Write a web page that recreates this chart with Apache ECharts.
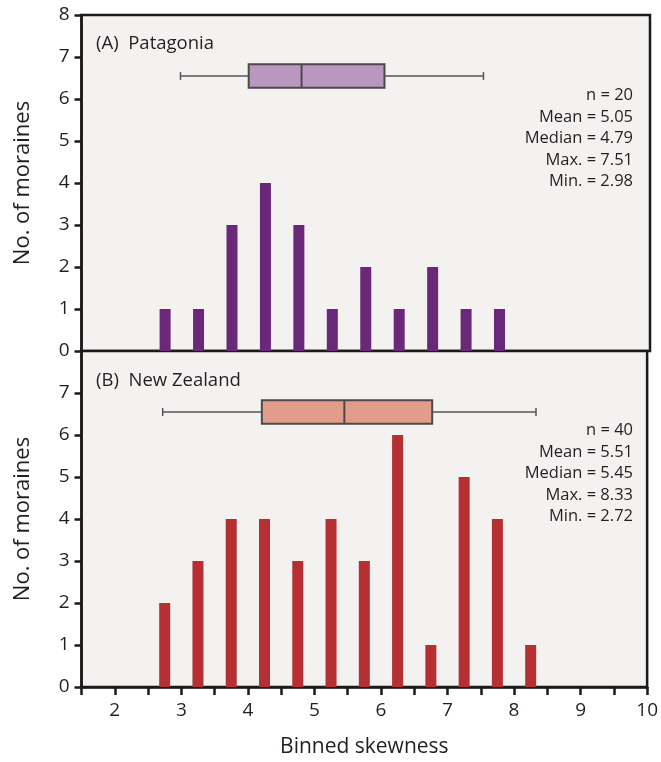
<!DOCTYPE html>
<html>
<head>
<meta charset="utf-8">
<script src="https://cdn.jsdelivr.net/npm/echarts@6/dist/echarts.min.js"></script>
<style>
html,body{margin:0;padding:0;background:#fff;}
#c{width:661px;height:762px;}
</style>
</head>
<body>
<div id="c"></div>
<script>
// ---- data ----
const binCentersA = [2.75, 3.25, 3.75, 4.25, 4.75, 5.25, 5.75, 6.25, 6.75, 7.25, 7.75];
const countsA     = [1, 1, 3, 4, 3, 1, 2, 1, 2, 1, 1];
const binCentersB = [2.75, 3.25, 3.75, 4.25, 4.75, 5.25, 5.75, 6.25, 6.75, 7.25, 7.75, 8.25];
const countsB     = [2, 3, 4, 4, 3, 4, 3, 6, 1, 5, 4, 1];
// box plots: [min, q1, median, q3, max]
const boxA = [2.98, 4.0, 4.79, 6.03, 7.51];
const boxB = [2.72, 4.21, 5.45, 6.77, 8.33];
const panelTitles = ['(A)  Patagonia', '(B)  New Zealand'];
const statsA = {n: 20, mean: '5.05', median: '4.79', max: '7.51', min: '2.98'};
const statsB = {n: 40, mean: '5.51', median: '5.45', max: '8.33', min: '2.72'};
const xTickLabels = [2, 3, 4, 5, 6, 7, 8, 9, 10];

// ---- styles ----
const FONT = 'Open Sans';
const TXT = '#231f20';
const BG = '#f3f2f1';
const barColorA = '#6a2878';
const barColorB = '#b52f33';
const boxFillA = '#ba97c0';
const boxFillB = '#e39b8b';

const chart = echarts.init(document.getElementById('c'), null, {renderer: 'canvas'});

function statsText(s) {
  return ['n = ' + s.n, 'Mean = ' + s.mean, 'Median = ' + s.median, 'Max. = ' + s.max, 'Min. = ' + s.min].join('\n');
}

function boxRender(params, api) {
  const yc = 6.55;
  const mn = api.coord([api.value(0), yc]);
  const q1 = api.coord([api.value(1), yc]);
  const md = api.coord([api.value(2), yc]);
  const q3 = api.coord([api.value(3), yc]);
  const mx = api.coord([api.value(4), yc]);
  const h = api.size([0, 0.56])[1];
  const fill = params.seriesIndex === 1 ? boxFillA : boxFillB;
  const lineStyle = {stroke: '#555', lineWidth: 1.5};
  const cap = 4;
  return {
    type: 'group',
    children: [
      {type: 'line', shape: {x1: mn[0], y1: mn[1], x2: q1[0], y2: q1[1]}, style: lineStyle},
      {type: 'line', shape: {x1: q3[0], y1: q3[1], x2: mx[0], y2: mx[1]}, style: lineStyle},
      {type: 'line', shape: {x1: mn[0], y1: mn[1] - cap, x2: mn[0], y2: mn[1] + cap}, style: lineStyle},
      {type: 'line', shape: {x1: mx[0], y1: mx[1] - cap, x2: mx[0], y2: mx[1] + cap}, style: lineStyle},
      {type: 'rect', shape: {x: q1[0], y: q1[1] - h / 2, width: q3[0] - q1[0], height: h},
        style: {fill: fill, stroke: '#4a4a4a', lineWidth: 2}},
      {type: 'line', shape: {x1: md[0], y1: md[1] - h / 2, x2: md[0], y2: md[1] + h / 2},
        style: {stroke: '#4a4a4a', lineWidth: 2}}
    ]
  };
}

const gridLeft = 81.5, gridRight = 11, panelH = 336;

const yAxisCommon = {
  type: 'value', min: 0, max: 8, interval: 1,
  axisLine: {show: true, onZero: false, lineStyle: {color: '#1a1a1a', width: 2.5}},
  axisTick: {show: true, length: 7, lineStyle: {color: '#1a1a1a', width: 2.5}},
  splitLine: {show: false},
  name: 'No. of moraines', nameLocation: 'middle', nameGap: 48,
  nameTextStyle: {fontFamily: FONT, fontSize: 22, color: TXT},
  axisLabel: {fontFamily: FONT, fontSize: 19, color: TXT, margin: 12}
};

const option = {
  animation: false,
  backgroundColor: '#ffffff',
  grid: [
    {left: gridLeft, right: gridRight, top: 15, height: panelH, show: true, backgroundColor: BG, borderColor: '#1a1a1a', borderWidth: 2.5},
    {left: gridLeft, right: gridRight, top: 15 + panelH, height: panelH, show: true, backgroundColor: BG, borderColor: '#1a1a1a', borderWidth: 2.5}
  ],
  xAxis: [
    {gridIndex: 0, type: 'value', min: 1.5, max: 10, interval: 0.5, show: false, splitLine: {show: false}},
    {gridIndex: 1, type: 'value', min: 1.5, max: 10, interval: 0.5,
      axisLine: {show: true, onZero: false, lineStyle: {color: '#1a1a1a', width: 2.5}},
      axisTick: {show: true, length: 8, lineStyle: {color: '#1a1a1a', width: 2.5}},
      splitLine: {show: false},
      axisLabel: {fontFamily: FONT, fontSize: 19, color: TXT, margin: 14,
        formatter: function (v) { return xTickLabels.indexOf(v) >= 0 ? String(v) : ''; }},
      name: 'Binned skewness', nameLocation: 'middle', nameGap: 50,
      nameTextStyle: {fontFamily: FONT, fontSize: 21, color: TXT}
    }
  ],
  yAxis: [
    Object.assign({}, yAxisCommon, {gridIndex: 0}),
    Object.assign({}, yAxisCommon, {gridIndex: 1,
      axisLabel: Object.assign({}, yAxisCommon.axisLabel, {formatter: function (v) { return v === 8 ? '' : String(v); }})})
  ],
  series: [
    {type: 'bar', xAxisIndex: 0, yAxisIndex: 0, barWidth: 11, itemStyle: {color: barColorA},
      data: binCentersA.map((x, i) => [x, countsA[i]])},
    {type: 'custom', xAxisIndex: 0, yAxisIndex: 0, renderItem: boxRender, clip: false, data: [boxA]},
    {type: 'custom', xAxisIndex: 1, yAxisIndex: 1, renderItem: boxRender, clip: false, data: [boxB]},
    {type: 'bar', xAxisIndex: 1, yAxisIndex: 1, barWidth: 11, itemStyle: {color: barColorB},
      data: binCentersB.map((x, i) => [x, countsB[i]])}
  ],
  graphic: [
    {type: 'text', left: 96, top: 34, style: {text: panelTitles[0], font: '18.5px "' + FONT + '"', fill: TXT}},
    {type: 'text', left: 96, top: 371, style: {text: panelTitles[1], font: '18.5px "' + FONT + '"', fill: TXT}},
    {type: 'text', x: 633, y: 85, style: {text: statsText(statsA), font: '16.5px "' + FONT + '"', fill: TXT, align: 'right', verticalAlign: 'top', lineHeight: 21.5}},
    {type: 'text', x: 633, y: 420, style: {text: statsText(statsB), font: '16.5px "' + FONT + '"', fill: TXT, align: 'right', verticalAlign: 'top', lineHeight: 21.5}}
  ]
};
chart.setOption(option);
</script>
</body>
</html>
